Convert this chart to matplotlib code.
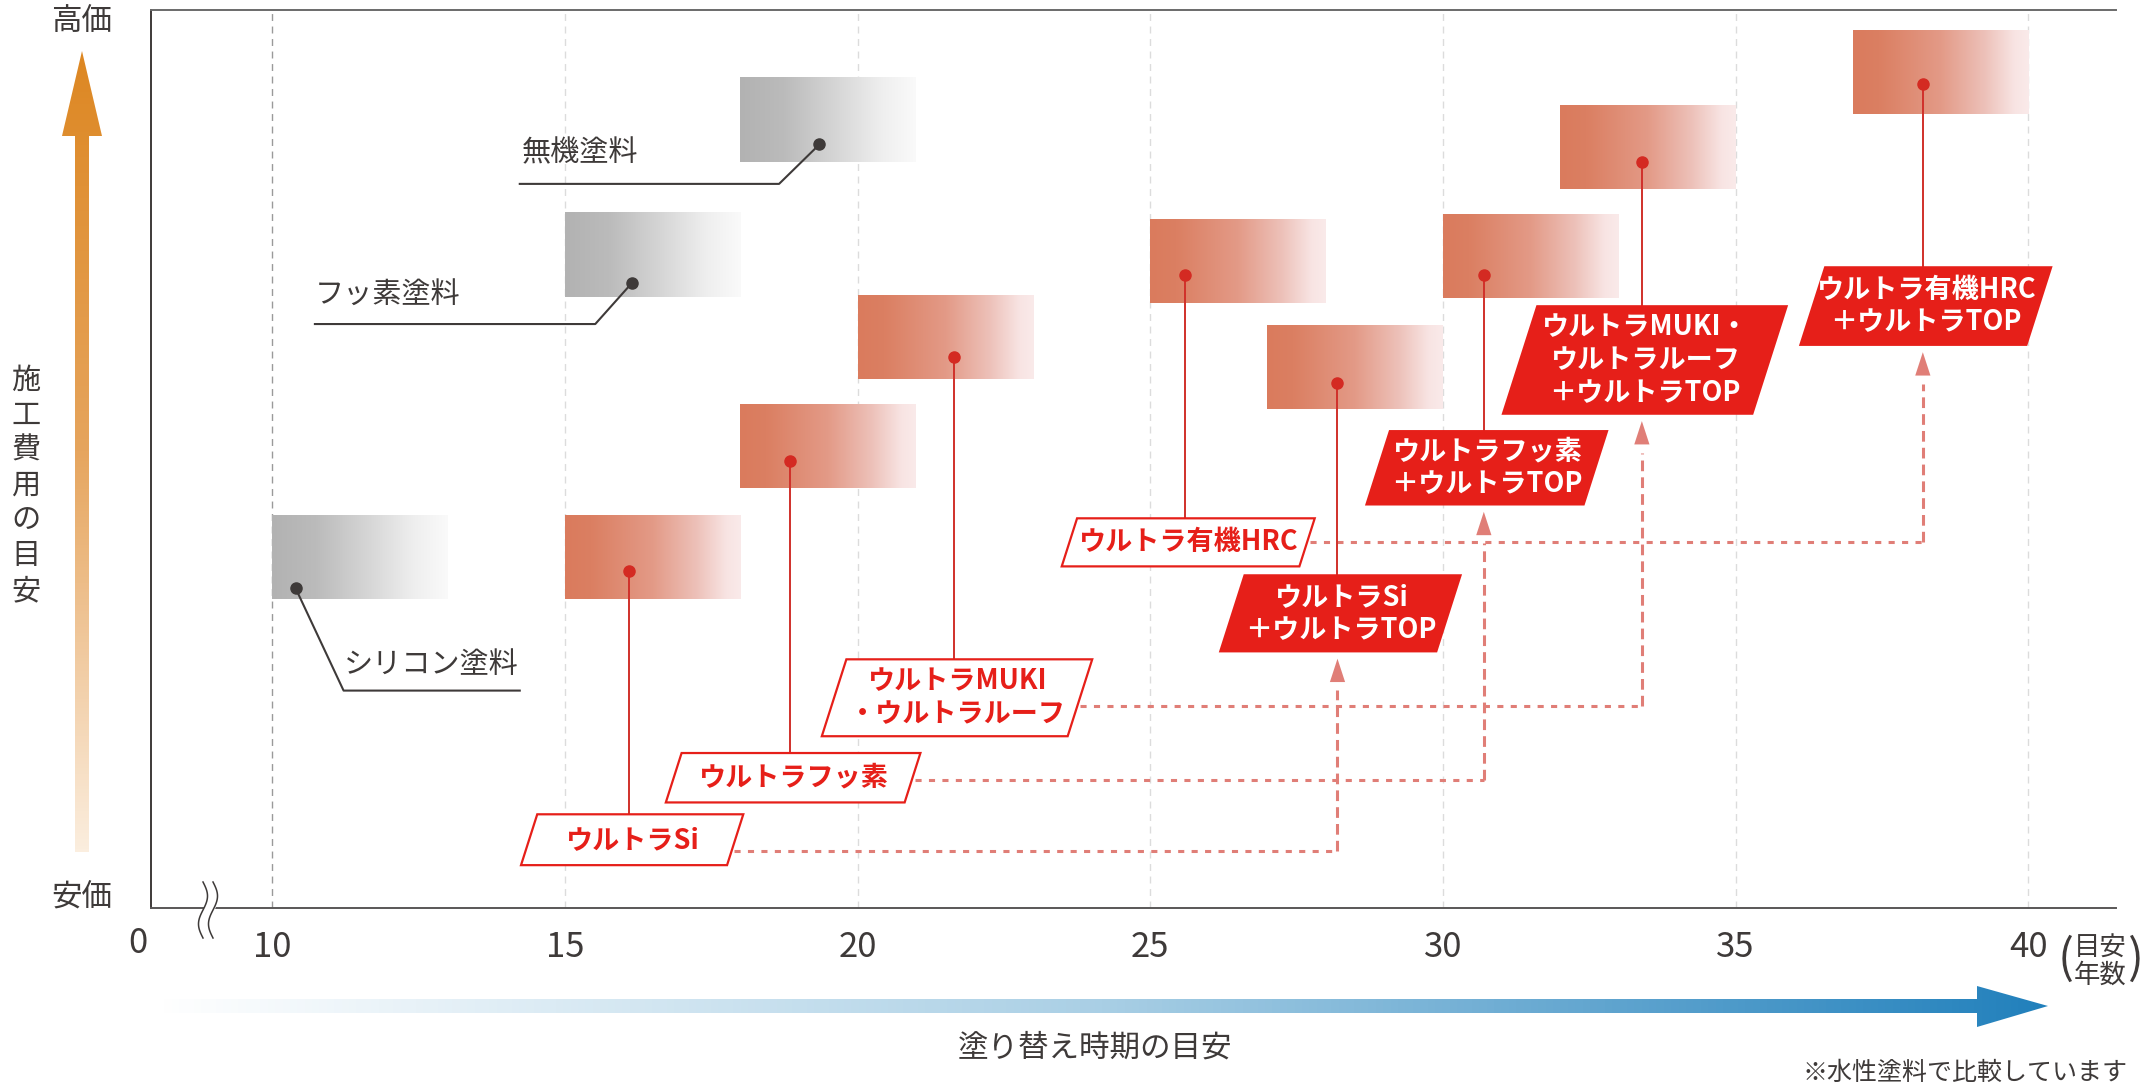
import numpy as np
import matplotlib.pyplot as plt
from matplotlib.colors import LinearSegmentedColormap
from matplotlib.patches import Polygon

plt.rcParams['font.family'] = ['Noto Sans CJK JP', 'DejaVu Sans']

# ---- data (x = years, y = relative cost 0..100) ----
gray_names = ['シリコン塗料', 'フッ素塗料', '無機塗料']
gray_start = [10, 15, 18]
gray_end = [13, 18, 21]
gray_low = [34.4, 68.0, 83.0]
gray_high = [43.7, 77.4, 92.4]
gray_dot_x = [10.4, 16.15, 19.35]
gray_dot_y = [35.6, 69.6, 85.0]

ultra_names = ['ウルトラSi', 'ウルトラフッ素', 'ウルトラMUKI\n・ウルトラルーフ', 'ウルトラ有機HRC',
               'ウルトラSi\n＋ウルトラTOP', 'ウルトラフッ素\n＋ウルトラTOP',
               'ウルトラMUKI・\nウルトラルーフ\n＋ウルトラTOP', 'ウルトラ有機HRC\n＋ウルトラTOP']
ultra_start = [15, 18, 20, 25, 27, 30, 32, 37]
ultra_end = [18, 21, 23, 28, 30, 33, 35, 40]
ultra_low = [34.4, 46.8, 58.9, 67.3, 55.5, 67.9, 80.0, 88.4]
ultra_high = [43.7, 56.1, 68.2, 76.6, 64.8, 77.2, 89.3, 97.7]
ultra_dot_x = [16.1, 18.85, 21.65, 25.6, 28.2, 30.7, 33.4, 38.2]
ultra_dot_y = [37.5, 49.7, 61.3, 70.5, 58.4, 70.5, 83.0, 91.7]
ultra_top = [False, False, False, False, True, True, True, True]
upgrade_from = [0, 1, 2, 3]
upgrade_to = [4, 5, 6, 7]

year_ticks = [10, 15, 20, 25, 30, 35, 40]

# ---- layout of the label boxes / callouts ----
box_w = [3.52, 4.08, 4.2, 4.06, 3.73, 3.75, 4.3, 3.9]
box_y = [7.6, 14.5, 23.4, 40.7, 32.8, 49.0, 61.0, 67.0]
box_h = [5.66, 5.5, 8.56, 5.35, 8.7, 8.4, 12.2, 8.87]
conn_y = [6.3, 14.2, 22.5, 40.7]
gray_knee_x = [11.22, 15.52, 18.66]
gray_knee_y = [24.2, 65.0, 80.6]
gray_end_x = [14.23, 10.73, 14.23]
gray_txt_x = [11.22, 10.73, 14.27]
gray_txt_y = [27.1, 68.3, 84.0]
SHEAR = 0.049

RED = '#E61F19'
CONN = '#E07E77'
DARK = '#3E3A39'

fig = plt.figure(figsize=(21.54, 10.90), dpi=100)
W, H = 2154, 1090
ax = fig.add_axes([151 / W, 1 - 908 / H, (2116 - 151) / W, (908 - 9.6) / H])

red_cmap = LinearSegmentedColormap.from_list('redband', [
    (0, '#DA7B5D'), (0.15, '#DB7F62'), (0.5, '#E39A87'), (0.75, '#EDC1B9'),
    (0.92, '#F8E4E3'), (1, '#FAEAEA')])
gray_cmap = LinearSegmentedColormap.from_list('grayband', [
    (0, '#B2B2B2'), (0.25, '#BBBBBB'), (0.55, '#D6D6D6'), (0.8, '#EEEEEE'), (1, '#FAFAFA')])
grad = np.linspace(0, 1, 256).reshape(1, -1)

# gridlines
for i, yr in enumerate(year_ticks):
    ax.plot([yr, yr], [0, 100], color='#9A9A9A' if i == 0 else '#DCDCDC',
            lw=1.0, dashes=(5, 4), zorder=0.5)

# bands
for s, e, lo, hi in zip(gray_start, gray_end, gray_low, gray_high):
    ax.imshow(grad, cmap=gray_cmap, extent=(s, e, lo, hi), aspect='auto', zorder=1)
for s, e, lo, hi in zip(ultra_start, ultra_end, ultra_low, ultra_high):
    ax.imshow(grad, cmap=red_cmap, extent=(s, e, lo, hi), aspect='auto', zorder=1)


def para(cx, cy, w, h):
    return [(cx - w / 2 - SHEAR * h / 2, cy - h / 2), (cx + w / 2 - SHEAR * h / 2, cy - h / 2),
            (cx + w / 2 + SHEAR * h / 2, cy + h / 2), (cx - w / 2 + SHEAR * h / 2, cy + h / 2)]


# gray callouts
for i, name in enumerate(gray_names):
    ax.plot([gray_dot_x[i], gray_knee_x[i], gray_end_x[i]],
            [gray_dot_y[i], gray_knee_y[i], gray_knee_y[i]], color=DARK, lw=1.5, zorder=3)
    ax.plot(gray_dot_x[i], gray_dot_y[i], 'o', color=DARK, ms=8, zorder=4)
    ax.text(gray_txt_x[i], gray_txt_y[i], name, color=DARK, fontsize=21,
            ha='left', va='center', zorder=6)

# dashed connectors from plain to +TOP
for k, (a, b) in enumerate(zip(upgrade_from, upgrade_to)):
    cx = ultra_dot_x[a] + 0.05
    y = conn_y[k]
    x0 = cx + box_w[a] / 2 + SHEAR * (y - box_y[a]) + 0.05
    xt = ultra_dot_x[b]
    ax.plot([x0, xt], [y, y], color=CONN, lw=2.2, dashes=(2, 2.4), zorder=2)
    tip = box_y[b] - box_h[b] / 2 - 0.7
    base = tip - 2.6
    ax.plot([xt, xt], [y, base - 0.9], color=CONN, lw=2.2, dashes=(3.5, 2), zorder=2)
    ax.add_patch(Polygon([(xt - 0.13, base), (xt + 0.13, base), (xt, tip)],
                         closed=True, facecolor=CONN, edgecolor='none', zorder=5))

# red leaders, dots and label boxes
for i, name in enumerate(ultra_names):
    cx = ultra_dot_x[i] + 0.05
    top = box_y[i] + box_h[i] / 2
    ax.plot([ultra_dot_x[i], ultra_dot_x[i]], [ultra_dot_y[i], top], color='#D0302A', lw=1.4, zorder=3)
    ax.plot(ultra_dot_x[i], ultra_dot_y[i], 'o', color='#D42A22', ms=8, zorder=4)
    if ultra_top[i]:
        ax.add_patch(Polygon(para(cx, box_y[i], box_w[i], box_h[i]), closed=True,
                             facecolor=RED, edgecolor='none', zorder=5))
        tc = 'white'
    else:
        ax.add_patch(Polygon(para(cx, box_y[i], box_w[i], box_h[i]), closed=True,
                             facecolor='white', edgecolor=RED, lw=1.6, zorder=5))
        tc = RED
    ax.text(cx, box_y[i], name, color=tc, fontsize=19.5, fontweight='bold', ha='center',
            va='center', multialignment='center', linespacing=1.22, zorder=6)

# axes frame
ax.set_xlim(7.93, 41.5)
ax.set_ylim(0, 100)
ax.set_xticks([])
ax.set_yticks([])
ax.spines['right'].set_visible(False)
for sp in ['left', 'top', 'bottom']:
    ax.spines[sp].set_linewidth(1.4)
ax.spines['left'].set_color('#3E3A39')
ax.spines['bottom'].set_color('#595757')
ax.spines['top'].set_color('#6A6A6A')
for yr in year_ticks:
    ax.text(yr, -0.024, str(yr), transform=ax.get_xaxis_transform(), ha='center',
            va='top', fontsize=25, color=DARK)

# ---- overlay in pixel coordinates for decorations ----
ov = fig.add_axes([0, 0, 1, 1], zorder=5)
ov.set_xlim(0, W)
ov.set_ylim(H, 0)
ov.axis('off')

ov.text(138, 926, '0', ha='center', va='top', fontsize=25, color=DARK)

# axis break
yy = np.linspace(882, 938, 60)
xa = 203 + 4.5 * np.sin(2 * np.pi * (yy - 882) / 56)
ov.fill_betweenx(yy, xa, xa + 10, color='white', zorder=1)
ov.plot(xa, yy, color=DARK, lw=1.1, zorder=2)
ov.plot(xa + 10, yy, color=DARK, lw=1.1, zorder=2)

# orange cost arrow
orange = LinearSegmentedColormap.from_list('orange', ['#DD8722', '#E6A55E', '#FBEEDF'])
arr = Polygon([(82, 51), (62, 136), (75, 136), (75, 852), (89, 852), (89, 136), (102, 136)],
              closed=True, facecolor='none', edgecolor='none')
ov.add_patch(arr)
im = ov.imshow(np.linspace(0, 1, 256).reshape(-1, 1), cmap=orange, extent=(62, 102, 852, 51),
               aspect='auto', origin='upper')
im.set_clip_path(arr)

# blue time arrow
blue = LinearSegmentedColormap.from_list('blue', ['#FFFFFF', '#A9CFE5', '#2180BC'])
barr = Polygon([(157, 999), (1977, 999), (1977, 986), (2048, 1006), (1977, 1027), (1977, 1013), (157, 1013)],
               closed=True, facecolor='none', edgecolor='none')
ov.add_patch(barr)
im2 = ov.imshow(np.linspace(0, 1, 256).reshape(1, -1), cmap=blue, extent=(157, 2048, 1027, 986),
                aspect='auto', origin='upper')
im2.set_clip_path(barr)

ov.text(82, 22, '高価', ha='center', va='center', fontsize=22, color=DARK)
ov.text(82, 897, '安価', ha='center', va='center', fontsize=22, color=DARK)
ov.text(26, 486, '\n'.join('施工費用の目安'), ha='center', va='center', fontsize=21,
        color=DARK, linespacing=1.22)
ov.text(1095, 1048, '塗り替え時期の目安', ha='center', va='center', fontsize=22, color=DARK)
ov.text(2127, 1073, '※水性塗料で比較しています', ha='right', va='center', fontsize=18, color=DARK)
ov.text(2100, 962, '目安\n年数', ha='center', va='center', fontsize=19, color=DARK, linespacing=1.0)
ov.text(2066, 960, '(', ha='center', va='center', fontsize=34, color=DARK)
ov.text(2136, 960, ')', ha='center', va='center', fontsize=34, color=DARK)

ov.set_xlim(0, W)
ov.set_ylim(H, 0)
fig.savefig('out.png', dpi=100, facecolor='white')
